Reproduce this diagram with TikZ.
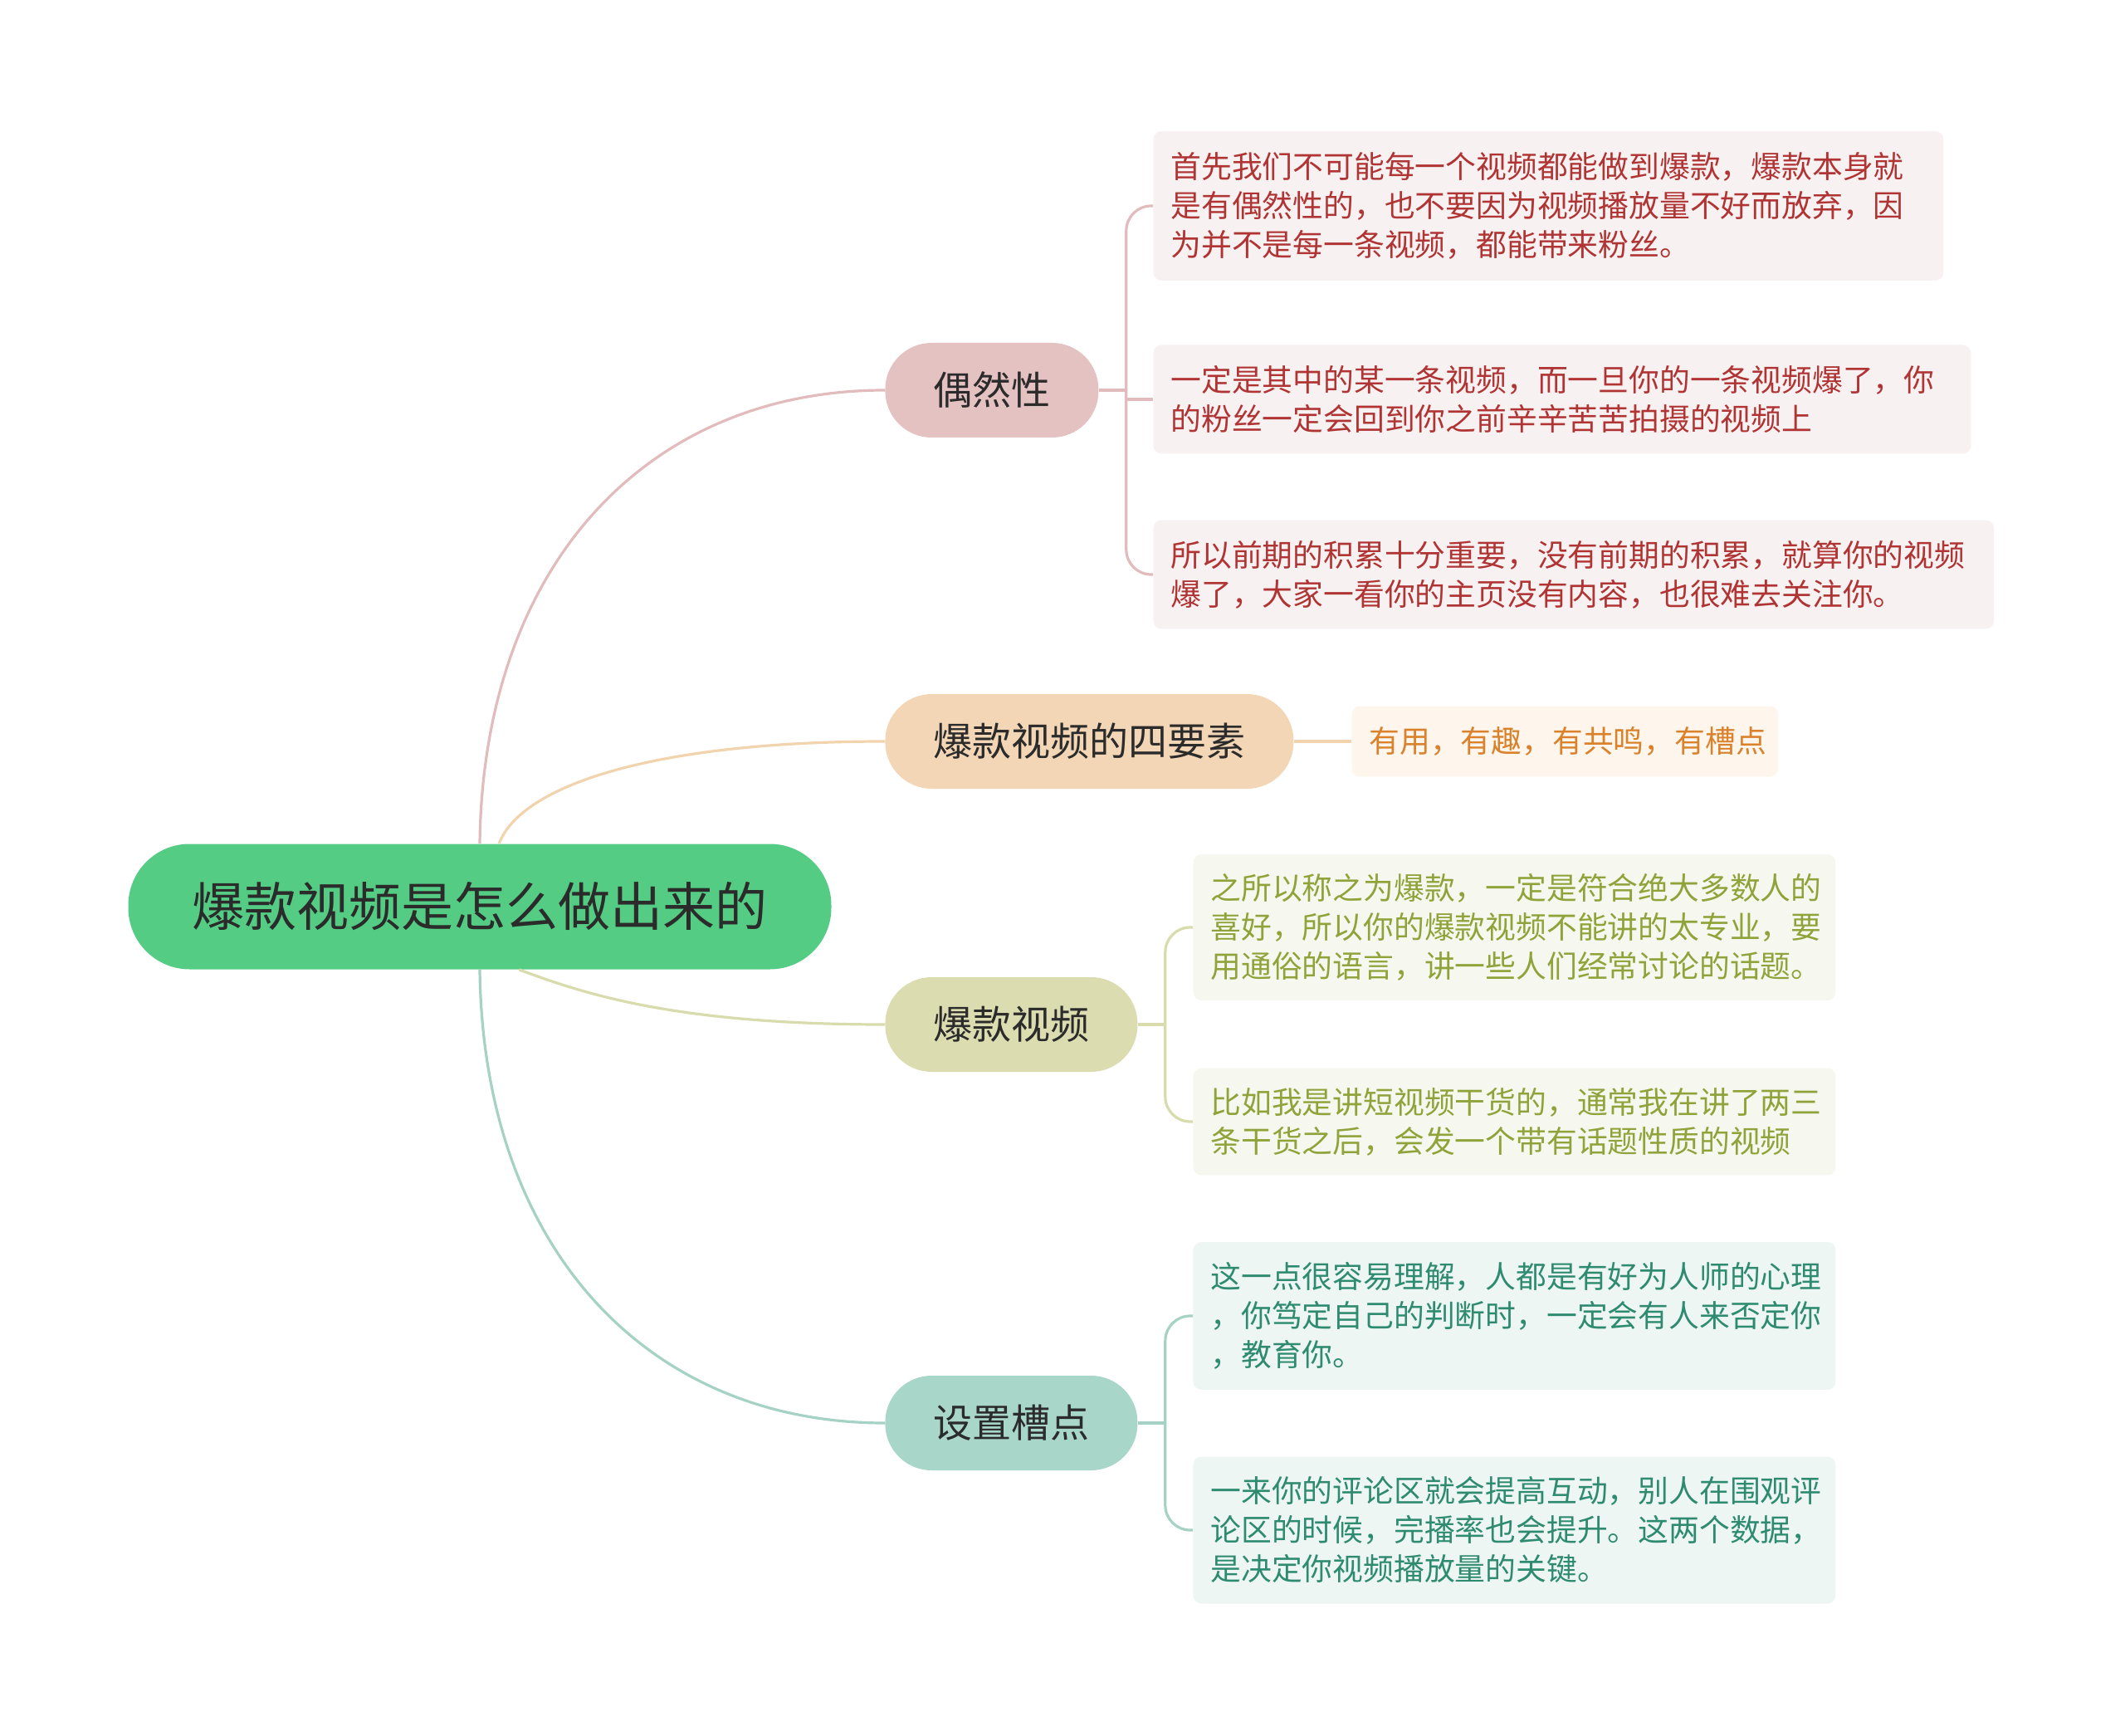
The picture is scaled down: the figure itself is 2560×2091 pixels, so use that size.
\documentclass[tikz,border=0pt]{standalone}
\usepackage{fontspec}
\setmainfont{Noto Sans CJK SC}
\definecolor{ink}{RGB}{43,43,43}
\definecolor{hubgreen}{RGB}{84,204,132}
\definecolor{rosy}{RGB}{229,194,194}
\definecolor{rosyline}{RGB}{226,188,188}
\definecolor{rosytext}{RGB}{176,52,52}
\definecolor{rosypale}{RGB}{248,241,241}
\definecolor{sand}{RGB}{243,214,181}
\definecolor{sandline}{RGB}{241,212,174}
\definecolor{sandtext}{RGB}{217,130,43}
\definecolor{sandpale}{RGB}{254,246,236}
\definecolor{olive}{RGB}{219,221,176}
\definecolor{oliveline}{RGB}{216,219,172}
\definecolor{olivetext}{RGB}{143,163,58}
\definecolor{olivepale}{RGB}{246,248,239}
\definecolor{sea}{RGB}{168,214,201}
\definecolor{sealine}{RGB}{166,210,197}
\definecolor{seatext}{RGB}{46,139,112}
\definecolor{seapale}{RGB}{238,246,244}
\begin{document}
\begin{tikzpicture}[x=0.5pt,y=-0.5pt,
  hub/.style={fill=hubgreen,rounded corners=37pt,minimum height=75.5pt,
     inner xsep=38.5pt,text=ink,font=\fontsize{31.5pt}{36pt}\selectfont},
  topic/.style={rounded corners=28pt,minimum height=57pt,inner xsep=29pt,
     anchor=west,text=ink,font=\fontsize{23.5pt}{28pt}\selectfont},
  note/.style={rounded corners=5pt,inner xsep=10.5pt,inner ysep=4pt,
     anchor=west,align=left,font=\fontsize{18.4pt}{23.5pt}\selectfont},
  link/.style={line width=1.6pt}]
\useasboundingbox (0,0) rectangle (2560,2091);

\node[hub] (root) at (578,1092) {爆款视频是怎么做出来的};

\node[topic,fill=rosy] (b1) at (1066,470) {偶然性};
\node[topic,fill=sand] (b2) at (1066,893) {爆款视频的四要素};
\node[topic,fill=olive] (b3) at (1066,1234) {爆款视频};
\node[topic,fill=sea] (b4) at (1066,1714) {设置槽点};

\node[note,fill=rosypale,text=rosytext,text width=455pt,minimum height=90pt] (l1) at (1389,248)
  {首先我们不可能每一个视频都能做到爆款，爆款本身就\\是有偶然性的，也不要因为视频播放量不好而放弃，因\\为并不是每一条视频，都能带来粉丝。};
\node[note,fill=rosypale,text=rosytext,text width=471.5pt,minimum height=65.5pt] (l2) at (1389,481)
  {一定是其中的某一条视频，而一旦你的一条视频爆了，你\\的粉丝一定会回到你之前辛辛苦苦拍摄的视频上};
\node[note,fill=rosypale,text=rosytext,text width=485.5pt,minimum height=65.5pt] (l3) at (1389,692)
  {所以前期的积累十分重要，没有前期的积累，就算你的视频\\爆了，大家一看你的主页没有内容，也很难去关注你。};
\node[note,fill=sandpale,text=sandtext,text width=236pt,minimum height=42.5pt] (l4) at (1628,893)
  {有用，有趣，有共鸣，有槽点};
\node[note,fill=olivepale,text=olivetext,text width=366pt,minimum height=88pt] (l5) at (1437,1117)
  {之所以称之为爆款，一定是符合绝大多数人的\\喜好，所以你的爆款视频不能讲的太专业，要\\用通俗的语言，讲一些人们经常讨论的话题。};
\node[note,fill=olivepale,text=olivetext,text width=366pt,minimum height=64.5pt] (l6) at (1437,1351)
  {比如我是讲短视频干货的，通常我在讲了两三\\条干货之后，会发一个带有话题性质的视频};
\node[note,fill=seapale,text=seatext,text width=366pt,minimum height=89pt] (l7) at (1437,1585)
  {这一点很容易理解，人都是有好为人师的心理\\，你笃定自己的判断时，一定会有人来否定你\\，教育你。};
\node[note,fill=seapale,text=seatext,text width=366pt,minimum height=88.5pt] (l8) at (1437,1843)
  {一来你的评论区就会提高互动，别人在围观评\\论区的时候，完播率也会提升。这两个数据，\\是决定你视频播放量的关键。};

\draw[link,draw=rosyline] (root.north) .. controls +(4,-336) and +(-286,0) .. (b1.west);
\draw[link,draw=sandline] (root.73) .. controls +(27,-71) and +(-276,0) .. (b2.west);
\draw[link,draw=oliveline] (root.-58) .. controls +(80,30) and +(-250,0) .. (b3.west);
\draw[link,draw=sealine] (root.south) .. controls +(4,336) and +(-286,0) .. (b4.west);

\draw[link,draw=rosyline] (b1.east) -- ++(33,0) coordinate (j1);
\draw[link,draw=rosyline,rounded corners=15pt] (j1) |- (l1.west);
\draw[link,draw=rosyline] (j1) |- (l2.west);
\draw[link,draw=rosyline,rounded corners=15pt] (j1) |- (l3.west);
\draw[link,draw=sandline] (b2.east) -- (l4.west);
\draw[link,draw=oliveline] (b3.east) -- ++(33,0) coordinate (j3);
\draw[link,draw=oliveline,rounded corners=15pt] (j3) |- (l5.west);
\draw[link,draw=oliveline,rounded corners=15pt] (j3) |- (l6.west);
\draw[link,draw=sealine] (b4.east) -- ++(33,0) coordinate (j4);
\draw[link,draw=sealine,rounded corners=15pt] (j4) |- (l7.west);
\draw[link,draw=sealine,rounded corners=15pt] (j4) |- (l8.west);
\end{tikzpicture}
\end{document}
